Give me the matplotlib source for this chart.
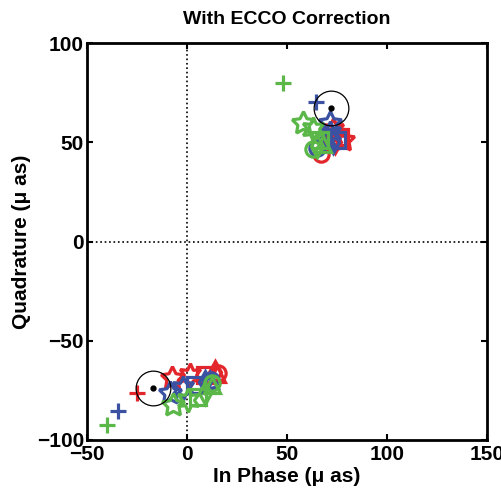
import matplotlib
matplotlib.use('Agg')
import matplotlib.pyplot as plt

plt.rcParams['font.family'] = ['Liberation Sans', 'DejaVu Sans']

# marker styles per realisation (same order for every colour)
# (5, 1, 0) = pentagram, (6, 1, 0) = hexagram
markers = ['+', (5, 1, 0), (6, 1, 0), 's', 'd', '^', 'o']

# lower cluster (x, y) per colour
red_lo_x = [-25, -7.5, 1.5, 9, 14, 15, 15.5]
red_lo_y = [-76.5, -69, -67.5, -67.5, -66, -67, -66.5]
blue_lo_x = [-34.5, -8.5, -2, 4, 9, 11.5, 12]
blue_lo_y = [-85.5, -76.5, -74, -72.5, -71, -70, -70]
green_lo_x = [-40, -7, 0.5, 5.5, 9, 12.5, 12.5]
green_lo_y = [-92.5, -82.5, -80, -78.5, -76.5, -72.5, -71.5]

# upper cluster
red_hi_x = [75, 78, 73, 76.5, 74, 72, 67]
red_hi_y = [57, 51, 56, 52.5, 50, 53, 44]
blue_hi_x = [64.8, 71.5, 71.5, 75, 73, 70, 65]
blue_hi_y = [70.5, 60, 54.5, 51, 50, 52, 47]
green_hi_x = [48, 58.2, 63, 66.5, 65, 68, 63]
green_hi_y = [80, 60, 57, 51, 48, 49, 46.7]

# reference positions (black circle + dot)
ref_x = [-17, 72]
ref_y = [-74, 67.5]

colors = {'red': '#e3262b', 'blue': '#3b52a3', 'green': '#5ab748'}

fig = plt.figure(figsize=(5.02, 4.91), dpi=100)
ax = fig.add_axes([0.173, 0.104, 0.797, 0.808])

ax.axvline(0, color='black', linestyle=':', linewidth=1.2)
ax.axhline(0, color='black', linestyle=':', linewidth=1.2)

series = [
    (red_lo_x, red_lo_y, 'red'), (red_hi_x, red_hi_y, 'red'),
    (blue_lo_x, blue_lo_y, 'blue'), (blue_hi_x, blue_hi_y, 'blue'),
    (green_lo_x, green_lo_y, 'green'), (green_hi_x, green_hi_y, 'green'),
]
for xs, ys, c in series:
    for x, y, m in zip(xs, ys, markers):
        ms = 11
        if isinstance(m, tuple):
            ms = 17
        ax.plot(x, y, linestyle='none', marker=m, markersize=ms,
                markerfacecolor='none', markeredgecolor=colors[c],
                markeredgewidth=2.3)

ax.plot(ref_x, ref_y, linestyle='none', marker='o', markersize=25,
        markerfacecolor='none', markeredgecolor='black', markeredgewidth=0.9)
ax.plot(ref_x, ref_y, linestyle='none', marker='o', markersize=3.5,
        color='black')

ax.set_xlim(-50, 150)
ax.set_ylim(-100, 100)
ax.set_xticks([-50, 0, 50, 100, 150])
ax.set_yticks([-100, -50, 0, 50, 100])
ax.tick_params(direction='in', top=True, right=True, length=4, width=1.5,
               labelsize=15, pad=2)
ax.tick_params(axis='x', pad=4)
for lab in ax.get_xticklabels() + ax.get_yticklabels():
    lab.set_fontweight('bold')
for sp in ax.spines.values():
    sp.set_linewidth(2)

ax.set_xlabel('In Phase (\u03bc as)', fontsize=15, fontweight='bold', labelpad=2)
ax.set_ylabel('Quadrature (\u03bc as)', fontsize=15, fontweight='bold', labelpad=4)
ax.set_title('With ECCO Correction', fontsize=14, fontweight='bold', pad=14)

fig.savefig('out.png', dpi=100)
